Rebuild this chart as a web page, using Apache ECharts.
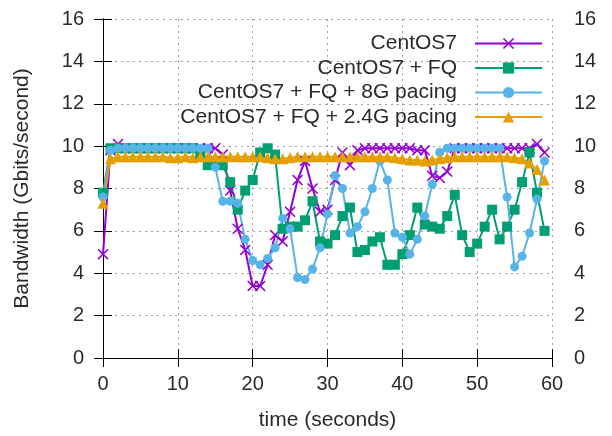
<!DOCTYPE html>
<html>
<head>
<meta charset="utf-8">
<script src="https://cdn.jsdelivr.net/npm/echarts@6/dist/echarts.min.js"></script>
<style>
  html, body { margin: 0; padding: 0; background: #fff; }
  #chart { width: 612px; height: 436px; }
</style>
</head>
<body>
<div id="chart"></div>
<script>
// time axis: one sample per second, 0..59
var seriesNames = ["CentOS7", "CentOS7 + FQ", "CentOS7 + FQ + 8G pacing", "CentOS7 + FQ + 2.4G pacing"];
var seriesColors = ["#9400d3", "#009e73", "#56b4e9", "#e69f00"];

var centos7 = [4.9, 9.8, 10.1, 9.9, 9.9, 9.9, 9.9, 9.9, 9.9, 9.9, 9.9, 9.9, 9.9, 9.9, 9.9, 9.9, 9.6, 7.9, 6.1, 5.1,
  3.4, 3.4, 4.4, 5.8, 5.5, 6.9, 8.4, 9.3, 8.0, 6.9, 7.0, 8.4, 9.7, 9.1, 9.8, 9.9, 9.9, 9.9, 9.9, 9.9,
  9.9, 9.9, 9.8, 9.8, 8.6, 8.5, 8.8, 9.9, 9.9, 9.9, 9.9, 9.9, 9.9, 9.9, 9.9, 9.9, 9.9, 9.9, 10.1, 9.7];

var centos7Fq = [7.8, 9.9, 9.9, 9.9, 9.9, 9.9, 9.9, 9.9, 9.9, 9.9, 9.9, 9.9, 9.9, 9.6, 9.1, 9.2, 9.1, 8.3, 7.0, 7.9,
  8.4, 9.7, 9.9, 9.6, 6.1, 6.2, 6.2, 6.5, 7.4, 5.5, 5.4, 5.8, 6.7, 7.1, 5.0, 5.1, 5.5, 5.7, 4.4, 4.4,
  4.9, 5.8, 7.1, 6.3, 6.2, 6.1, 6.7, 7.7, 5.8, 5.0, 5.4, 6.2, 7.0, 5.6, 6.2, 7.0, 8.3, 9.7, 7.8, 6.0];

var pacing8g = [7.6, 9.8, 9.9, 9.9, 9.9, 9.9, 9.9, 9.9, 9.9, 9.9, 9.9, 9.9, 9.9, 9.9, 9.9, 9.0, 7.4, 7.4, 7.3, 5.6,
  4.6, 4.4, 4.7, 5.2, 6.6, 6.1, 3.8, 3.7, 4.2, 5.2, 6.8, 8.6, 8.0, 5.9, 6.2, 6.9, 8.0, 9.3, 8.4, 5.9,
  5.7, 4.9, 5.6, 6.7, 8.2, 9.7, 9.9, 9.9, 9.9, 9.9, 9.9, 9.9, 9.9, 9.9, 7.6, 4.3, 4.8, 5.9, 7.5, 9.3];

var pacing24g = [7.3, 9.4, 9.5, 9.5, 9.5, 9.5, 9.5, 9.5, 9.5, 9.45, 9.45, 9.5, 9.45, 9.5, 9.5, 9.5, 9.5, 9.5, 9.5, 9.5,
  9.5, 9.5, 9.45, 9.4, 9.4, 9.45, 9.5, 9.5, 9.5, 9.5, 9.5, 9.5, 9.5, 9.5, 9.5, 9.5, 9.5, 9.5, 9.5, 9.45,
  9.4, 9.35, 9.35, 9.3, 9.35, 9.4, 9.45, 9.5, 9.5, 9.5, 9.5, 9.5, 9.5, 9.5, 9.5, 9.45, 9.4, 9.2, 8.9, 8.4];

var allValues = [centos7, centos7Fq, pacing8g, pacing24g];

// gnuplot-like point types
var crossPath = "path://M0,1L1,0L5,4L9,0L10,1L6,5L10,9L9,10L5,6L1,10L0,9L4,5Z";
var symbols = [crossPath, "rect", "circle", "triangle"];
var symbolSizes = [11, 10, 9, 11];

var FONT = "Liberation Sans";
var FS = 21;
var TICK_FS = 20;
var gridLine = { show: true, lineStyle: { color: "#a0a0a0", type: [2, 4], width: 1 } };

function toPairs(arr) {
  return arr.map(function (v, i) { return [i, v]; });
}

var chart = echarts.init(document.getElementById("chart"));

var option = {
  backgroundColor: "#fff",
  animation: false,
  textStyle: { fontFamily: FONT },
  grid: { left: 103, right: 60, top: 19, bottom: 77 },
  legend: {
    orient: "vertical",
    right: 64,
    top: 28,
    padding: 5,
    align: "right",
    itemWidth: 67,
    itemHeight: 14,
    itemGap: 3.5,
    data: seriesNames,
    textStyle: { fontFamily: FONT, fontSize: FS, color: "#2a2a2a", padding: [0, 13, 0, 0], lineHeight: 21 }
  },
  xAxis: [
    {
      type: "value", position: "bottom", min: 0, max: 60, interval: 10,
      name: "time (seconds)", nameLocation: "middle", nameGap: 52,
      nameTextStyle: { fontFamily: FONT, fontSize: FS, color: "#2a2a2a" },
      axisLine: { show: true, lineStyle: { color: "#000", width: 1 } },
      axisTick: { inside: true, length: 9, lineStyle: { color: "#000" } },
      axisLabel: { margin: 16, fontFamily: FONT, fontSize: TICK_FS, color: "#2a2a2a" },
      splitLine: gridLine
    },
    {
      type: "value", position: "top", min: 0, max: 60, interval: 10,
      axisLine: { show: true, lineStyle: { color: "#000", width: 1 } },
      axisTick: { inside: true, length: 9, lineStyle: { color: "#000" } },
      axisLabel: { show: false },
      splitLine: { show: false }
    }
  ],
  yAxis: [
    {
      type: "value", position: "left", min: 0, max: 16, interval: 2,
      name: "Bandwidth (Gbits/second)", nameLocation: "middle", nameGap: 70, nameRotate: 90,
      nameTextStyle: { fontFamily: FONT, fontSize: FS, color: "#2a2a2a" },
      axisLine: { show: true, lineStyle: { color: "#000", width: 1 } },
      axisTick: { inside: true, length: 9, lineStyle: { color: "#000" } },
      axisLabel: { margin: 19, fontFamily: FONT, fontSize: TICK_FS, color: "#2a2a2a" },
      splitLine: gridLine
    },
    {
      type: "value", position: "right", min: 0, max: 16, interval: 2,
      axisLine: { show: true, lineStyle: { color: "#000", width: 1 } },
      axisTick: { inside: true, length: 9, lineStyle: { color: "#000" } },
      axisLabel: { margin: 22, fontFamily: FONT, fontSize: TICK_FS, color: "#2a2a2a" },
      splitLine: { show: false }
    }
  ],
  series: seriesNames.map(function (name, i) {
    return {
      name: name,
      type: "line",
      xAxisIndex: 0,
      yAxisIndex: 0,
      data: toPairs(allValues[i]),
      color: seriesColors[i],
      symbol: symbols[i],
      symbolSize: symbolSizes[i],
      showAllSymbol: true,
      lineStyle: { width: 2 },
      itemStyle: { color: seriesColors[i] }
    };
  })
};

chart.setOption(option);
</script>
</body>
</html>
